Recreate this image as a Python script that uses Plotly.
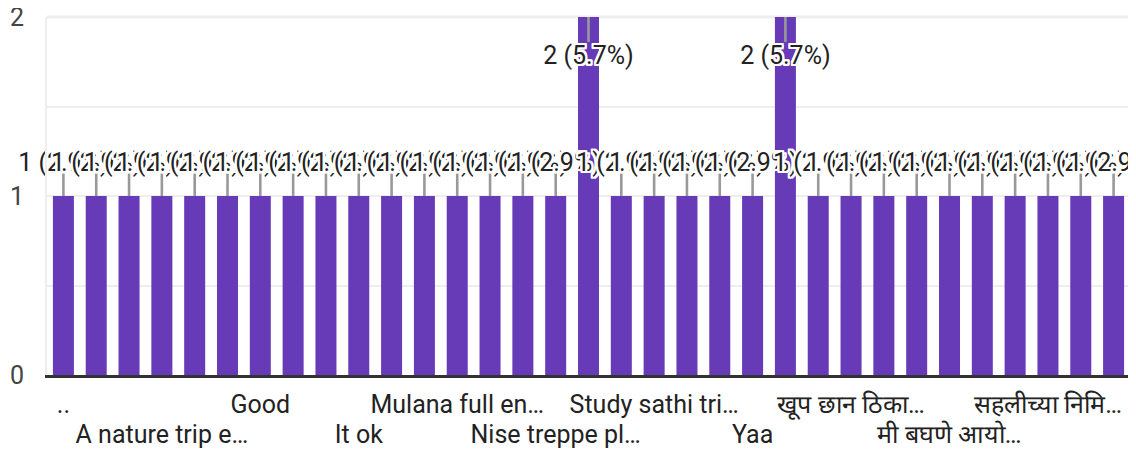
import plotly.graph_objects as go

# ---- data ----
categories = [
    "..", "A beautiful place", "A good experience", "A nature trip experience",
    "Awesome", "Best trip", "Good", "Good experience", "Great", "It ok",
    "It was fun", "Maza aali", "Mulana full enjoy kela", "Nice", "Nice place",
    "Nise treppe place", "Ok", "Sarv chan hote", "Study sathi trip changli",
    "Very good", "Very nice", "Yaa", "खूप छान", "खूप छान अनुभव",
    "खूप छान ठिकाण होते", "छान", "मजा आली", "मी बघणे आयोजित केले",
    "सर्व छान", "सहल छान होती", "सहलीच्या निमित्ताने", "सुंदर", "हो",
]
counts = [1, 1, 1, 1, 1, 1, 1, 1, 1, 1, 1, 1, 1, 1, 1, 1, 2,
          1, 1, 1, 1, 1, 2, 1, 1, 1, 1, 1, 1, 1, 1, 1, 1]

tick_row1_idx = [0, 6, 12, 18, 24, 30]
tick_row1_text = ["..", "Good", "Mulana full en…", "Study sathi tri…",
                  "खूप छान ठिका…", "सहलीच्या निमि…"]
tick_row2_idx = [3, 9, 15, 21, 27]
tick_row2_text = ["A nature trip e…", "It ok", "Nise treppe pl…", "Yaa",
                  "मी बघणे आयो…"]

y_ticks = [0, 0.5, 1, 1.5, 2]
y_ticktext = ["0", "", "1", "", "2"]

# ---- derived ----
total = sum(counts)
x = list(range(len(categories)))
ymax = max(counts)
labels = [f"{v} ({v / total * 100:.1f}%)" for v in counts]

text_y, stem_x, stem_y = [], [], []
for i, v in enumerate(counts):
    if v >= ymax:
        text_y.append(v - 0.225)
        stem_x += [i, i, None]
        stem_y += [v, v - 0.14, None]
    else:
        text_y.append(v + 0.175)
        stem_x += [i, i, None]
        stem_y += [v, v + 0.125, None]

FONT = "Roboto, Arial, sans-serif"
FS = 25
PURPLE = "#673AB7"
halo = ", ".join(f"{dx}px {dy}px 0 #fff" for dx in (-2, -1, 0, 1, 2)
                 for dy in (-2, -1, 0, 1, 2) if (dx, dy) != (0, 0))

fig = go.Figure()
fig.add_trace(go.Bar(x=x, y=counts, marker=dict(color=PURPLE, line=dict(width=0)),
                     hovertext=categories, hoverinfo="text+y", showlegend=False))
fig.add_trace(go.Scatter(x=stem_x, y=stem_y, mode="lines",
                         line=dict(color="#999999", width=2.6),
                         hoverinfo="skip", showlegend=False, cliponaxis=False))
fig.add_trace(go.Scatter(x=x, y=text_y, mode="text", text=labels,
                         textposition="middle center",
                         textfont=dict(family=FONT, size=FS, color="#222222",
                                       shadow=halo),
                         hoverinfo="skip", showlegend=False, cliponaxis=False))
# invisible trace to carry the second row of category labels
fig.add_trace(go.Scatter(x=[x[0], x[-1]], y=[0, 0], xaxis="x2", mode="markers",
                         marker=dict(opacity=0), hoverinfo="skip", showlegend=False))

xr = [-0.5, len(categories) - 0.5]
# the page body has an 8px margin, so the figure is sized/offset to fit the window
fig.update_layout(
    width=1128, height=442,
    margin=dict(l=39, r=6, t=9, b=75),
    paper_bgcolor="white", plot_bgcolor="white",
    bargap=0.36,
    font=dict(family=FONT, size=FS, color="#222222"),
    xaxis=dict(range=xr, tickmode="array", tickvals=tick_row1_idx,
               ticktext=tick_row1_text, ticks="outside", ticklen=5,
               tickcolor="rgba(0,0,0,0)", showgrid=False, zeroline=False,
               showline=True, linecolor="#333333", linewidth=3, automargin=False,
               ticklabeloverflow="allow",
               tickfont=dict(size=FS, color="#222222")),
    xaxis2=dict(range=xr, overlaying="x", anchor="y", side="bottom",
                tickmode="array", tickvals=tick_row2_idx, ticktext=tick_row2_text,
                ticks="outside", ticklen=37, tickcolor="rgba(0,0,0,0)",
                showgrid=False, zeroline=False, showline=False, automargin=False,
                ticklabeloverflow="allow",
                tickfont=dict(size=FS, color="#222222")),
    yaxis=dict(range=[0, 2], tickmode="array", tickvals=y_ticks,
               ticktext=y_ticktext, showgrid=True, gridcolor="#eeeeee",
               gridwidth=2, zeroline=False, showline=True, mirror=True,
               linecolor="#eeeeee", linewidth=2, ticks="outside", ticklen=16,
               tickcolor="rgba(0,0,0,0)", automargin=False,
               ticklabeloverflow="allow",
               tickfont=dict(size=FS, color="#444444")),
    shapes=[dict(type="line", xref="paper", yref="paper", x0=0, x1=1, y0=1, y1=1,
                 line=dict(color="#eeeeee", width=3), layer="below")],
)

fig.write_html("out.html")
